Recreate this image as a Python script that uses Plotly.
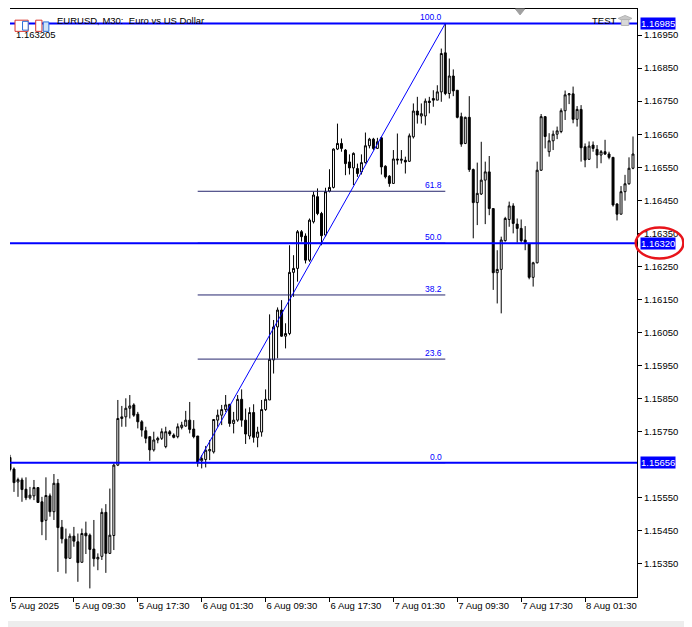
import plotly.graph_objects as go

# EURUSD M30 bars, first visible bar is 5 Aug 01:30 (bar -1)
opens = [1.15672, 1.15637, 1.15598, 1.15604, 1.15576, 1.15550, 1.15556, 1.15581, 1.15538, 1.15482,
         1.15556, 1.15508, 1.15594, 1.15461, 1.15425, 1.15367, 1.15434, 1.15417, 1.15355, 1.15443,
         1.15437, 1.15395, 1.15365, 1.15373, 1.15506, 1.15382, 1.15436, 1.15649, 1.15790, 1.15795,
         1.15821, 1.15831, 1.15803, 1.15780, 1.15753, 1.15735, 1.15695, 1.15725, 1.15730, 1.15705,
         1.15750, 1.15740, 1.15735, 1.15763, 1.15767, 1.15785, 1.15758, 1.15737, 1.15662, 1.15666,
         1.15692, 1.15689, 1.15785, 1.15800, 1.15817, 1.15833, 1.15775, 1.15785, 1.15848, 1.15785,
         1.15737, 1.15808, 1.15733, 1.15749, 1.15817, 1.15846, 1.15967, 1.16067, 1.16118, 1.16039,
         1.16047, 1.16232, 1.16244, 1.16355, 1.16342, 1.16269, 1.16385, 1.16461, 1.16410, 1.16345,
         1.16478, 1.16489, 1.16605, 1.16622, 1.16602, 1.16566, 1.16548, 1.16546, 1.16536, 1.16564,
         1.16615, 1.16635, 1.16607, 1.16639, 1.16553, 1.16523, 1.16501, 1.16575, 1.16571, 1.16571,
         1.16568, 1.16642, 1.16720, 1.16705, 1.16705, 1.16750, 1.16758, 1.16753, 1.16778, 1.16896,
         1.16773, 1.16826, 1.16783, 1.16703, 1.16622, 1.16701, 1.16543, 1.16443, 1.16469, 1.16511,
         1.16536, 1.16425, 1.16231, 1.16241, 1.16328, 1.16392, 1.16433, 1.16378, 1.16365, 1.16330,
         1.16318, 1.16217, 1.16261, 1.16541, 1.16703, 1.16597, 1.16630, 1.16650, 1.16658, 1.16721,
         1.16769, 1.16772, 1.16695, 1.16725, 1.16612, 1.16574, 1.16617, 1.16604, 1.16587, 1.16597,
         1.16590, 1.16580, 1.16439, 1.16408, 1.16476, 1.16500, 1.16547]
highs = [1.15680, 1.15642, 1.15611, 1.15611, 1.15612, 1.15583, 1.15604, 1.15581, 1.15553, 1.15612,
         1.15563, 1.15622, 1.15607, 1.15483, 1.15457, 1.15442, 1.15462, 1.15442, 1.15457, 1.15478,
         1.15442, 1.15483, 1.15382, 1.15518, 1.15531, 1.15578, 1.15654, 1.15846, 1.15828, 1.15851,
         1.15861, 1.15836, 1.15810, 1.15785, 1.15765, 1.15735, 1.15750, 1.15735, 1.15760, 1.15765,
         1.15755, 1.15745, 1.15775, 1.15780, 1.15813, 1.15840, 1.15785, 1.15737, 1.15679, 1.15707,
         1.15725, 1.15787, 1.15817, 1.15831, 1.15861, 1.15833, 1.15810, 1.15861, 1.15878, 1.15820,
         1.15824, 1.15833, 1.15765, 1.15846, 1.15878, 1.16105, 1.16088, 1.16126, 1.16148, 1.16078,
         1.16314, 1.16284, 1.16360, 1.16360, 1.16350, 1.16395, 1.16476, 1.16486, 1.16415, 1.16488,
         1.16544, 1.16607, 1.16682, 1.16637, 1.16605, 1.16589, 1.16595, 1.16561, 1.16589, 1.16655,
         1.16639, 1.16639, 1.16639, 1.16642, 1.16556, 1.16526, 1.16602, 1.16652, 1.16602, 1.16582,
         1.16652, 1.16743, 1.16763, 1.16743, 1.16758, 1.16763, 1.16783, 1.16798, 1.16909, 1.16985,
         1.16879, 1.16846, 1.16783, 1.16715, 1.16703, 1.16765, 1.16546, 1.16564, 1.16627, 1.16567,
         1.16584, 1.16425, 1.16299, 1.16340, 1.16400, 1.16446, 1.16441, 1.16395, 1.16392, 1.16372,
         1.16318, 1.16264, 1.16567, 1.16711, 1.16705, 1.16653, 1.16661, 1.16673, 1.16728, 1.16782,
         1.16774, 1.16794, 1.16735, 1.16738, 1.16622, 1.16628, 1.16628, 1.16617, 1.16602, 1.16633,
         1.16597, 1.16580, 1.16441, 1.16493, 1.16527, 1.16580, 1.16643]
lows = [1.15630, 1.15568, 1.15553, 1.15538, 1.15543, 1.15545, 1.15543, 1.15535, 1.15437, 1.15422,
        1.15493, 1.15483, 1.15326, 1.15412, 1.15321, 1.15367, 1.15402, 1.15296, 1.15354, 1.15380,
        1.15276, 1.15342, 1.15331, 1.15362, 1.15323, 1.15380, 1.15392, 1.15646, 1.15765, 1.15765,
        1.15790, 1.15795, 1.15760, 1.15735, 1.15715, 1.15662, 1.15690, 1.15715, 1.15725, 1.15700,
        1.15737, 1.15730, 1.15730, 1.15757, 1.15765, 1.15745, 1.15730, 1.15644, 1.15639, 1.15642,
        1.15664, 1.15684, 1.15765, 1.15770, 1.15810, 1.15765, 1.15745, 1.15780, 1.15765, 1.15713,
        1.15727, 1.15717, 1.15703, 1.15735, 1.15813, 1.15846, 1.15926, 1.15972, 1.16037, 1.16002,
        1.16042, 1.16158, 1.16204, 1.16325, 1.16259, 1.16264, 1.16380, 1.16405, 1.16314, 1.16340,
        1.16474, 1.16486, 1.16602, 1.16597, 1.16526, 1.16528, 1.16496, 1.16521, 1.16528, 1.16561,
        1.16607, 1.16602, 1.16605, 1.16528, 1.16516, 1.16491, 1.16501, 1.16558, 1.16561, 1.16531,
        1.16566, 1.16637, 1.16682, 1.16682, 1.16677, 1.16713, 1.16733, 1.16753, 1.16748, 1.16768,
        1.16758, 1.16765, 1.16698, 1.16612, 1.16620, 1.16536, 1.16335, 1.16375, 1.16466, 1.16378,
        1.16405, 1.16179, 1.16138, 1.16108, 1.16325, 1.16370, 1.16350, 1.16322, 1.16322, 1.16299,
        1.16211, 1.16189, 1.16259, 1.16539, 1.16607, 1.16582, 1.16602, 1.16635, 1.16653, 1.16693,
        1.16741, 1.16683, 1.16673, 1.16567, 1.16550, 1.16572, 1.16597, 1.16547, 1.16562, 1.16587,
        1.16574, 1.16431, 1.16389, 1.16408, 1.16449, 1.16497, 1.16544]
closes = [1.15636, 1.15596, 1.15605, 1.15575, 1.15550, 1.15558, 1.15581, 1.15536, 1.15478, 1.15557,
          1.15508, 1.15594, 1.15460, 1.15426, 1.15367, 1.15434, 1.15419, 1.15354, 1.15442, 1.15435,
          1.15394, 1.15366, 1.15370, 1.15506, 1.15382, 1.15437, 1.15649, 1.15790, 1.15795, 1.15821,
          1.15828, 1.15800, 1.15780, 1.15755, 1.15730, 1.15695, 1.15725, 1.15730, 1.15750, 1.15750,
          1.15743, 1.15733, 1.15765, 1.15770, 1.15785, 1.15757, 1.15735, 1.15656, 1.15669, 1.15694,
          1.15696, 1.15787, 1.15800, 1.15817, 1.15831, 1.15775, 1.15785, 1.15848, 1.15785, 1.15743,
          1.15808, 1.15733, 1.15749, 1.15817, 1.15848, 1.15969, 1.16067, 1.16118, 1.16039, 1.16047,
          1.16232, 1.16244, 1.16355, 1.16340, 1.16269, 1.16390, 1.16466, 1.16410, 1.16343, 1.16476,
          1.16489, 1.16605, 1.16622, 1.16607, 1.16561, 1.16548, 1.16592, 1.16531, 1.16564, 1.16615,
          1.16635, 1.16607, 1.16627, 1.16551, 1.16521, 1.16501, 1.16575, 1.16572, 1.16574, 1.16566,
          1.16645, 1.16720, 1.16708, 1.16712, 1.16750, 1.16746, 1.16753, 1.16778, 1.16894, 1.16773,
          1.16826, 1.16781, 1.16701, 1.16620, 1.16701, 1.16543, 1.16443, 1.16471, 1.16511, 1.16536,
          1.16425, 1.16231, 1.16241, 1.16330, 1.16395, 1.16433, 1.16380, 1.16365, 1.16328, 1.16322,
          1.16217, 1.16261, 1.16541, 1.16703, 1.16643, 1.16630, 1.16650, 1.16660, 1.16721, 1.16769,
          1.16772, 1.16695, 1.16725, 1.16609, 1.16572, 1.16614, 1.16607, 1.16587, 1.16597, 1.16590,
          1.16580, 1.16436, 1.16408, 1.16476, 1.16500, 1.16547, 1.16590]

bars = list(range(-1, len(closes) - 1))

tick_bars = [-1, 15, 31, 47, 63, 79, 95, 111, 127, 143]
tick_labels = ["5 Aug 2025", "5 Aug 09:30", "5 Aug 17:30", "6 Aug 01:30", "6 Aug 09:30",
               "6 Aug 17:30", "7 Aug 01:30", "7 Aug 09:30", "7 Aug 17:30", "8 Aug 01:30"]

# price scale labels (1.15650 is hidden behind the 1.15656 marker)
price_ticks = [1.15350, 1.15450, 1.15550, 1.15750, 1.15850, 1.15950, 1.16050, 1.16150,
               1.16250, 1.16350, 1.16450, 1.16550, 1.16650, 1.16750, 1.16850, 1.16950]

# fibonacci retracement anchors (bar, price)
fib_start = (46, 1.15656)
fib_end = (108, 1.16985)
fib_levels = [0.0, 23.6, 38.2, 50.0, 61.8, 100.0]
hlines = [1.16985, 1.16320, 1.15656]

BLUE = "#0000ff"
FONT = "Liberation Sans"

fig = go.Figure()

fig.add_trace(go.Candlestick(
    x=bars, open=opens, high=highs, low=lows, close=closes,
    increasing=dict(line=dict(color="black", width=1), fillcolor="white"),
    decreasing=dict(line=dict(color="black", width=1), fillcolor="black"),
    whiskerwidth=0, showlegend=False, hoverinfo="skip"))

lo, hi = fib_start[1], fib_end[1]
for lv in fib_levels:
    price = lo + (hi - lo) * lv / 100
    fig.add_shape(type="line", xref="x", yref="y", x0=fib_start[0], x1=fib_end[0],
                  y0=price, y1=price, line=dict(color="#26266e", width=1))
    fig.add_annotation(x=fib_end[0], y=price, xref="x", yref="y", text=f"{lv:.1f}",
                       xanchor="right", yanchor="bottom", showarrow=False, xshift=-1, yshift=-1,
                       font=dict(family=FONT, size=8.5, color=BLUE))

# trend line of the fibo object
fig.add_shape(type="line", xref="x", yref="y", x0=fib_start[0], y0=fib_start[1],
              x1=fib_end[0], y1=fib_end[1], line=dict(color=BLUE, width=1))

for p in hlines:
    fig.add_shape(type="line", xref="paper", yref="y", x0=0, x1=1, y0=p, y1=p,
                  line=dict(color=BLUE, width=2))
    fig.add_annotation(x=1, y=p, xref="paper", yref="y", text=f"{p:.5f}", xanchor="left",
                       xshift=3, showarrow=False, bgcolor=BLUE, borderpad=0,
                       font=dict(family=FONT, size=9.5, color="white"))

# red highlight round the 50% price label
fig.add_shape(type="circle", xref="paper", yref="y", x0=0.998, x1=1.074,
              y0=1.16274, y1=1.16368, line=dict(color="#e8141b", width=2.5))

# header texts
fig.add_annotation(x=0.072, y=0.981, xref="paper", yref="paper", text="EURUSD, M30:  Euro vs US Dollar",
                   xanchor="left", yanchor="middle", showarrow=False,
                   font=dict(family=FONT, size=9.5, color="black"))
fig.add_annotation(x=0.006, y=0.956, xref="paper", yref="paper", text="1.163205",
                   xanchor="left", yanchor="middle", showarrow=False,
                   font=dict(family=FONT, size=9.5, color="black"))
fig.add_annotation(x=0.925, y=0.981, xref="paper", yref="paper", text="TEST",
                   xanchor="left", yanchor="middle", showarrow=False,
                   font=dict(family=FONT, size=9.5, color="black"))

# chart shift marker on the top border
fig.add_shape(type="path", xref="paper", yref="paper",
              path="M 0.806 1.0 L 0.821 1.0 L 0.8135 0.990 Z",
              line=dict(color="#a0a0a0", width=1), fillcolor="#a0a0a0")

# grey cap next to TEST
fig.add_shape(type="path", xref="paper", yref="paper",
              path="M 0.970 0.984 L 0.981 0.989 L 0.992 0.984 L 0.981 0.979 Z",
              line=dict(color="#b4b4b4", width=1), fillcolor="#c8c8c8")
fig.add_shape(type="rect", xref="paper", yref="paper", x0=0.975, x1=0.987, y0=0.972, y1=0.982,
              line=dict(color="#b4b4b4", width=1), fillcolor="#d8d8d8")

# little toolbar icons next to the symbol name
fig.add_shape(type="rect", xref="paper", yref="paper", x0=0.008, x1=0.029, y0=0.962, y1=0.981,
              line=dict(color="#d9342b", width=1), fillcolor="white")
fig.add_shape(type="rect", xref="paper", yref="paper", x0=0.020, x1=0.029, y0=0.964, y1=0.979,
              line=dict(color="#2b6fd9", width=1), fillcolor="white")
fig.add_shape(type="rect", xref="paper", yref="paper", x0=0.041, x1=0.051, y0=0.962, y1=0.981,
              line=dict(color="#d9342b", width=1), fillcolor="white")
fig.add_shape(type="rect", xref="paper", yref="paper", x0=0.053, x1=0.062, y0=0.962, y1=0.978,
              line=dict(color="#2b6fd9", width=1), fillcolor="#cfe3f7")

# window shadow
fig.add_shape(type="rect", xref="paper", yref="paper", x0=1.076, x1=1.09, y0=-0.06, y1=1.0,
              line=dict(width=0), fillcolor="#ededed", layer="below")
fig.add_shape(type="rect", xref="paper", yref="paper", x0=-0.008, x1=1.09, y0=-0.06, y1=-0.041,
              line=dict(width=0), fillcolor="#ededed", layer="below")

# the page body has an 8px margin, so the figure is 8px smaller
fig.update_layout(
    width=684, height=619,
    margin=dict(l=2, r=55, t=1, b=30),
    paper_bgcolor="white", plot_bgcolor="white",
    showlegend=False,
    xaxis=dict(range=[-1, 156], showgrid=False, zeroline=False, rangeslider=dict(visible=False),
               showline=True, linecolor="black", linewidth=1, mirror=True,
               tickmode="array", tickvals=tick_bars, ticktext=tick_labels,
               ticks="outside", ticklen=4, tickcolor="black",
               ticklabelposition="outside right",
               tickfont=dict(family=FONT, size=9.5, color="black")),
    yaxis=dict(range=[1.1525, 1.170287], side="right", showgrid=False, zeroline=False,
               showline=True, linecolor="black", linewidth=1,
               tickmode="array", tickvals=price_ticks, tickformat=".5f",
               ticks="outside", ticklen=4, tickcolor="black",
               tickfont=dict(family=FONT, size=9.5, color="black")),
)

fig.write_html("out.html")
